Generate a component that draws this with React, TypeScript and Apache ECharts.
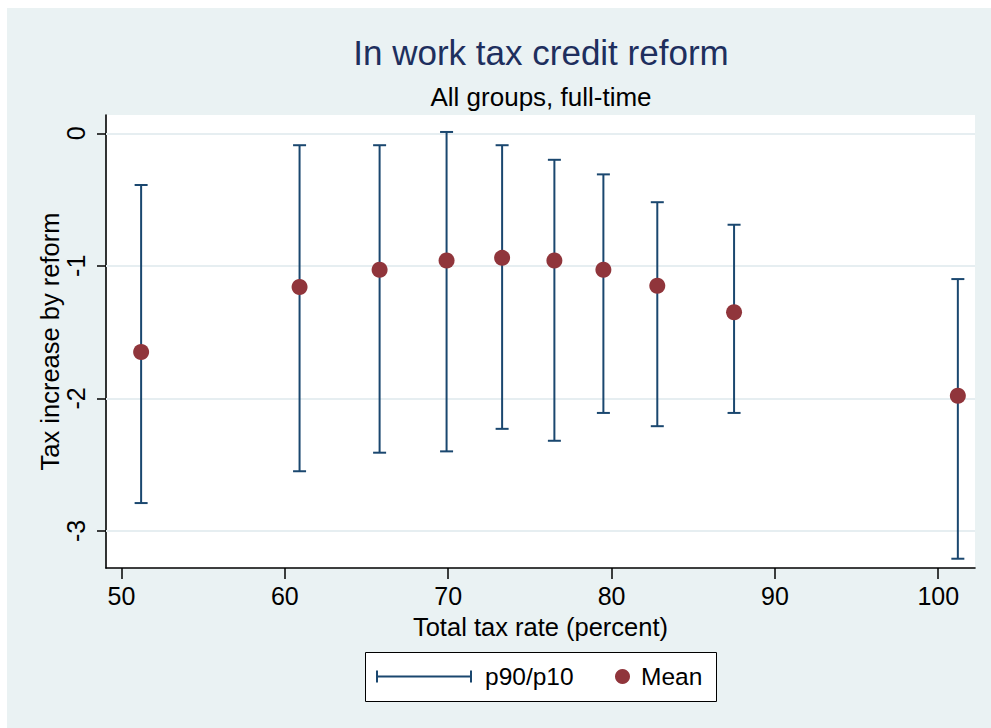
import React, { useEffect, useRef } from "react";
import * as echarts from "echarts";

const taxRate = [51.2, 60.9, 65.8, 69.9, 73.3, 76.5, 79.5, 82.8, 87.5, 101.2];
const meanValues = [-1.65, -1.16, -1.03, -0.96, -0.94, -0.96, -1.03, -1.15, -1.35, -1.98];
const p90Values = [-0.39, -0.09, -0.09, 0.01, -0.09, -0.2, -0.31, -0.52, -0.69, -1.1];
const p10Values = [-2.79, -2.55, -2.41, -2.4, -2.23, -2.32, -2.11, -2.21, -2.11, -3.21];
const xTicks = [50, 60, 70, 80, 90, 100];
const yTicks = [0, -1, -2, -3];

const FONT = "'Liberation Sans', Arial, Helvetica, sans-serif";
const NAVY = "#1a476f";
const MAROON = "#90353b";

export default function App() {
  const ref = useRef<HTMLDivElement>(null);
  useEffect(() => {
    if (!ref.current) return;
    const chart = echarts.init(ref.current, null, { renderer: "svg" });
    const barData = taxRate.map((x, i) => [x, p10Values[i], p90Values[i]]);
    const meanData = taxRate.map((x, i) => [x, meanValues[i]]);
    const option: any = {
      animation: false,
      backgroundColor: "#ffffff",
      textStyle: { fontFamily: FONT },
      graphic: [
        { type: "rect", z: -100, shape: { x: 7, y: 8, width: 984, height: 720 }, style: { fill: "#eaf2f3" } },
        { type: "rect", z: 3, shape: { x: 365.5, y: 652.5, width: 351, height: 49 }, style: { fill: "#ffffff", stroke: "#000000", lineWidth: 1 } },
      ],
      title: [
        { text: "In work tax credit reform", left: 541, top: 35, textAlign: "center", padding: 0, textStyle: { fontFamily: FONT, fontSize: 35, fontWeight: "normal", color: "#1e2f5e" } },
        { text: "All groups, full-time", left: 541, top: 84, textAlign: "center", padding: 0, textStyle: { fontFamily: FONT, fontSize: 26, fontWeight: "normal", color: "#000000" } },
      ],
      legend: [
        {
          left: 376, top: 664, padding: 0, selectedMode: false, itemWidth: 96, itemHeight: 12,
          data: [{ name: "p90/p10", icon: "path://M0,0H2V12H0Z M0,5H96V7H0Z M94,0H96V12H94Z" }],
          textStyle: { fontFamily: FONT, fontSize: 24.5, color: "#000", padding: [0, 0, 0, 8] },
        },
        {
          left: 615, top: 664, padding: 0, selectedMode: false, itemWidth: 15, itemHeight: 15,
          data: [{ name: "Mean", icon: "circle" }],
          textStyle: { fontFamily: FONT, fontSize: 24.5, color: "#000", padding: [0, 0, 0, 6] },
        },
      ],
      grid: { left: 106, right: 16, top: 115, bottom: 160, show: true, backgroundColor: "#ffffff", borderWidth: 0 },
      xAxis: {
        type: "value", min: 49.05, max: 102.25,
        name: "Total tax rate (percent)", nameLocation: "middle", nameGap: 46, nameMoveOverlap: false,
        nameTextStyle: { fontFamily: FONT, fontSize: 25.5, color: "#000" },
        axisLine: { show: true, onZero: false, lineStyle: { color: "#000", width: 1.6 } },
        axisTick: { show: true, length: 11, customValues: xTicks, lineStyle: { color: "#000", width: 1.5 } },
        axisLabel: { customValues: xTicks, margin: 15, fontFamily: FONT, fontSize: 25, color: "#000" },
        splitLine: { show: false },
      },
      yAxis: {
        type: "value", min: -3.28, max: 0.138,
        name: "Tax increase by reform", nameLocation: "middle", nameGap: 43, nameMoveOverlap: false,
        nameTextStyle: { fontFamily: FONT, fontSize: 25.5, color: "#000" },
        axisLine: { show: true, onZero: false, lineStyle: { color: "#000", width: 1.6 } },
        axisTick: { show: true, length: 9, customValues: yTicks, lineStyle: { color: "#000", width: 1.5 } },
        axisLabel: { customValues: yTicks, rotate: 90, margin: 18, fontFamily: FONT, fontSize: 25, color: "#000" },
        splitLine: { show: false },
      },
      series: [
        {
          type: "line", name: "grid", data: [], silent: true, z: 1,
          markLine: {
            z: 1, silent: true, symbol: "none", label: { show: false },
            lineStyle: { color: "#e6eef1", width: 2, type: "solid" },
            data: yTicks.map((v) => ({ yAxis: v })),
          },
        },
        {
          type: "custom", name: "p90/p10", data: barData, z: 2,
          itemStyle: { color: NAVY },
          encode: { x: 0, y: [1, 2] },
          renderItem: (params: any, api: any) => {
            const x = api.value(0);
            const lo = api.value(1);
            const hi = api.value(2);
            const top = api.coord([x, hi]);
            const bot = api.coord([x, lo]);
            const hw = 6.5;
            const style = { stroke: NAVY, lineWidth: 2, fill: null };
            return {
              type: "group",
              children: [
                { type: "line", shape: { x1: top[0], y1: top[1], x2: bot[0], y2: bot[1] }, style },
                { type: "line", shape: { x1: top[0] - hw, y1: top[1], x2: top[0] + hw, y2: top[1] }, style },
                { type: "line", shape: { x1: bot[0] - hw, y1: bot[1], x2: bot[0] + hw, y2: bot[1] }, style },
              ],
            };
          },
        },
        {
          type: "scatter", name: "Mean", data: meanData, z: 3,
          symbol: "circle", symbolSize: 16,
          itemStyle: { color: MAROON, opacity: 1 },
        },
      ],
    };
    chart.setOption(option);
    return () => chart.dispose();
  }, []);
  return <div ref={ref} style={{ position: "absolute", left: 0, top: 0, width: 991, height: 728 }} />;
}
